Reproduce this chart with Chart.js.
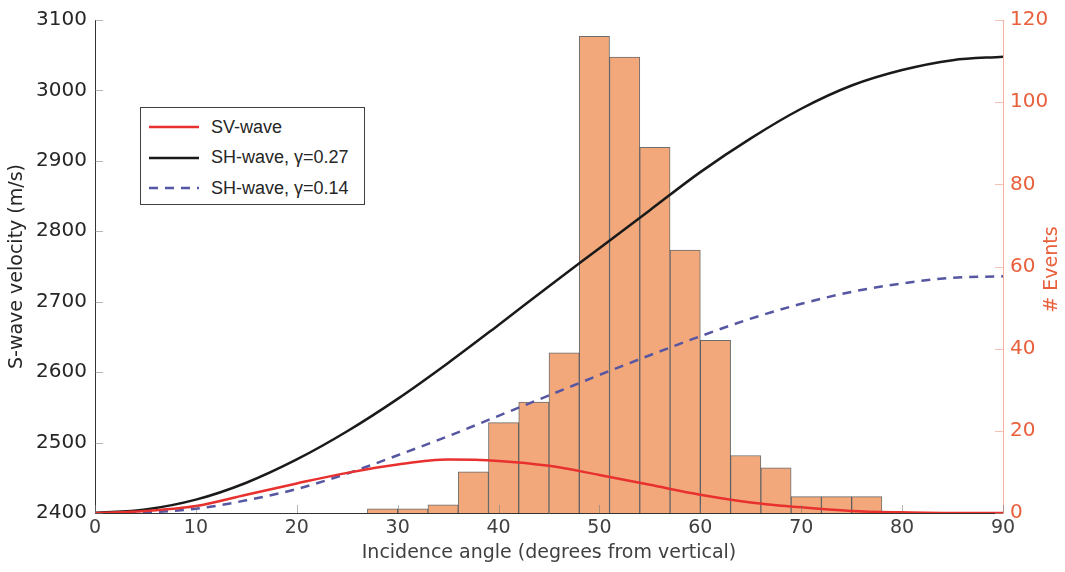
<!DOCTYPE html>
<html>
<head>
<meta charset="utf-8">
<script src="https://cdn.jsdelivr.net/npm/chart.js@4"></script>
<style>
  body { margin: 0; background: #fff; }
  #wrap { position: relative; width: 1065px; height: 572px; }
  #legend {
    position: absolute; left: 140px; top: 107px; width: 223px; height: 96px;
    border: 1px solid #404040; background: #fff;
    font-family: "Liberation Sans", Arial, sans-serif; font-size: 18px; color: #262626;
  }
  #legend .row { position: absolute; left: 8px; height: 20px; display: flex; align-items: center; }
  #legend svg { margin-right: 12px; }
</style>
</head>
<body>
<div id="wrap">
  <canvas id="chart" width="1065" height="572"></canvas>
  <div id="legend"></div>
</div>
<script>
// incidence angle (deg) for the velocity curves
const angles = [0, 5, 10, 15, 20, 25, 30, 35, 40, 45, 50, 55, 60, 65, 70, 75, 80, 85, 90];
const svWave = [2400, 2403, 2410, 2426, 2442, 2457, 2469, 2476, 2474, 2467, 2454, 2440, 2426, 2415, 2408, 2403, 2401, 2400, 2400];
const shWave27 = [2400, 2405, 2419, 2443, 2476, 2516, 2562, 2613, 2667, 2722, 2776, 2830, 2884, 2932, 2974, 3007, 3029, 3043, 3048];
const shWave14 = [2400, 2401, 2406, 2418, 2434, 2456, 2482, 2509, 2538, 2567, 2596, 2624, 2651, 2676, 2697, 2714, 2726, 2734, 2736];

// histogram of events, 3 degree bins from 27 to 78
const binCenters = [28.5, 31.5, 34.5, 37.5, 40.5, 43.5, 46.5, 49.5, 52.5, 55.5, 58.5, 61.5, 64.5, 67.5, 70.5, 73.5, 76.5];
const eventCounts = [1, 1, 2, 10, 22, 27, 39, 116, 111, 89, 64, 42, 14, 11, 4, 4, 4];

const seriesNames = ["SV-wave", "SH-wave, \u03b3=0.27", "SH-wave, \u03b3=0.14"];
const seriesColors = ["#e8312f", "#1a1a1a", "#5656a2"];

const RIGHT_COLOR = "#e8603c";

function pts(ys) {
  return angles.map((a, i) => ({ x: a, y: ys[i] }));
}

// MATLAB style ticks pointing into the plot
const innerTicks = {
  id: "innerTicks",
  afterDatasetsDraw(chart) {
    const { ctx, chartArea, scales } = chart;
    ctx.save();
    ctx.lineWidth = 1;
    ctx.strokeStyle = "rgba(120,120,120,0.55)";
    scales.x.ticks.forEach((t, i) => {
      const px = Math.round(scales.x.getPixelForTick(i)) + 0.5;
      ctx.beginPath();
      ctx.moveTo(px, chartArea.bottom);
      ctx.lineTo(px, chartArea.bottom - 8);
      ctx.stroke();
    });
    scales.y.ticks.forEach((t, i) => {
      const py = Math.round(scales.y.getPixelForTick(i)) + 0.5;
      ctx.beginPath();
      ctx.moveTo(chartArea.left, py);
      ctx.lineTo(chartArea.left + 8, py);
      ctx.stroke();
    });
    ctx.strokeStyle = "rgba(240,150,130,0.6)";
    scales.y1.ticks.forEach((t, i) => {
      const py = Math.round(scales.y1.getPixelForTick(i)) + 0.5;
      ctx.beginPath();
      ctx.moveTo(chartArea.right, py);
      ctx.lineTo(chartArea.right - 8, py);
      ctx.stroke();
    });
    // right axis title, reading bottom to top like the left one
    ctx.fillStyle = RIGHT_COLOR;
    ctx.font = "19px 'DejaVu Sans'";
    ctx.textAlign = "center";
    ctx.textBaseline = "middle";
    ctx.translate(scales.y1.right - 13, (chartArea.top + chartArea.bottom) / 2 + 3);
    ctx.rotate(-Math.PI / 2);
    ctx.fillText("# Events", 0, 0);
    ctx.restore();
  },
};

document.addEventListener("DOMContentLoaded", function () {
  const el = document.getElementById("chart");
  new Chart(el, {
    type: "line",
    data: {
      datasets: [
        {
          label: seriesNames[0],
          data: pts(svWave),
          borderColor: seriesColors[0],
          borderWidth: 2.5,
          pointRadius: 0,
          cubicInterpolationMode: "monotone",
          fill: false,
          yAxisID: "y",
          order: 1,
        },
        {
          label: seriesNames[1],
          data: pts(shWave27),
          borderColor: seriesColors[1],
          borderWidth: 2.5,
          pointRadius: 0,
          cubicInterpolationMode: "monotone",
          fill: false,
          yAxisID: "y",
          order: 1,
        },
        {
          label: seriesNames[2],
          data: pts(shWave14),
          borderColor: seriesColors[2],
          borderWidth: 2.5,
          borderDash: [9, 7],
          pointRadius: 0,
          cubicInterpolationMode: "monotone",
          fill: false,
          yAxisID: "y",
          order: 1,
        },
        {
          type: "bar",
          label: "# Events",
          data: binCenters.map((c, i) => ({ x: c, y: eventCounts[i] })),
          backgroundColor: "rgb(242,168,122)",
          borderColor: "rgba(60,60,60,0.75)",
          borderWidth: 1,
          barPercentage: 1,
          categoryPercentage: 1,
          yAxisID: "y1",
          order: 10,
        },
      ],
    },
    options: {
      responsive: false,
      animation: false,
      devicePixelRatio: 1,
      layout: { padding: { top: 18, left: 0, right: 0, bottom: 0 } },
      scales: {
        x: {
          type: "linear",
          min: 0,
          max: 90,
          offset: false,
          grid: { display: false, drawTicks: false },
          border: { color: "#333", width: 1 },
          ticks: {
            stepSize: 10,
            autoSkip: false,
            maxRotation: 0,
            padding: 4,
            color: "#404040",
            font: { family: "DejaVu Sans", size: 19 },
          },
          title: {
            display: true,
            text: "Incidence angle (degrees from vertical)",
            color: "#404040",
            font: { family: "DejaVu Sans", size: 19 },
            padding: { top: 0, bottom: 8 },
          },
          afterFit: (s) => { s.height = 59; },
        },
        y: {
          position: "left",
          min: 2400,
          max: 3100,
          grid: { display: false, drawTicks: false },
          border: { color: "#333", width: 1 },
          ticks: {
            stepSize: 100,
            padding: 8,
            color: "#262626",
            font: { family: "DejaVu Sans", size: 20 },
            callback: (v) => String(v),
          },
          title: {
            display: true,
            text: "S-wave velocity (m/s)",
            color: "#262626",
            font: { family: "DejaVu Sans", size: 19 },
            padding: { top: 6, bottom: 0 },
          },
          afterFit: (s) => { s.width = 95; },
        },
        y1: {
          position: "right",
          min: 0,
          max: 120,
          grid: { display: false, drawTicks: false },
          border: { color: "#f4b0a0", width: 1 },
          ticks: {
            stepSize: 20,
            padding: 7,
            color: RIGHT_COLOR,
            font: { family: "DejaVu Sans", size: 20 },
          },
          afterFit: (s) => { s.width = 62; },
        },
      },
      plugins: {
        legend: { display: false },
        tooltip: { enabled: false },
      },
    },
    plugins: [innerTicks],
  });

  // legend box
  const legend = document.getElementById("legend");
  seriesNames.forEach((name, i) => {
    const row = document.createElement("div");
    row.className = "row";
    row.style.top = 9 + i * 30.5 + "px";
    const dash = i === 2 ? ' stroke-dasharray="9 7"' : "";
    row.innerHTML =
      '<svg width="50" height="6"><line x1="0" y1="3" x2="50" y2="3" stroke="' +
      seriesColors[i] + '" stroke-width="2.5"' + dash + "/></svg><span>" + name + "</span>";
    legend.appendChild(row);
  });
});
</script>
</body>
</html>
